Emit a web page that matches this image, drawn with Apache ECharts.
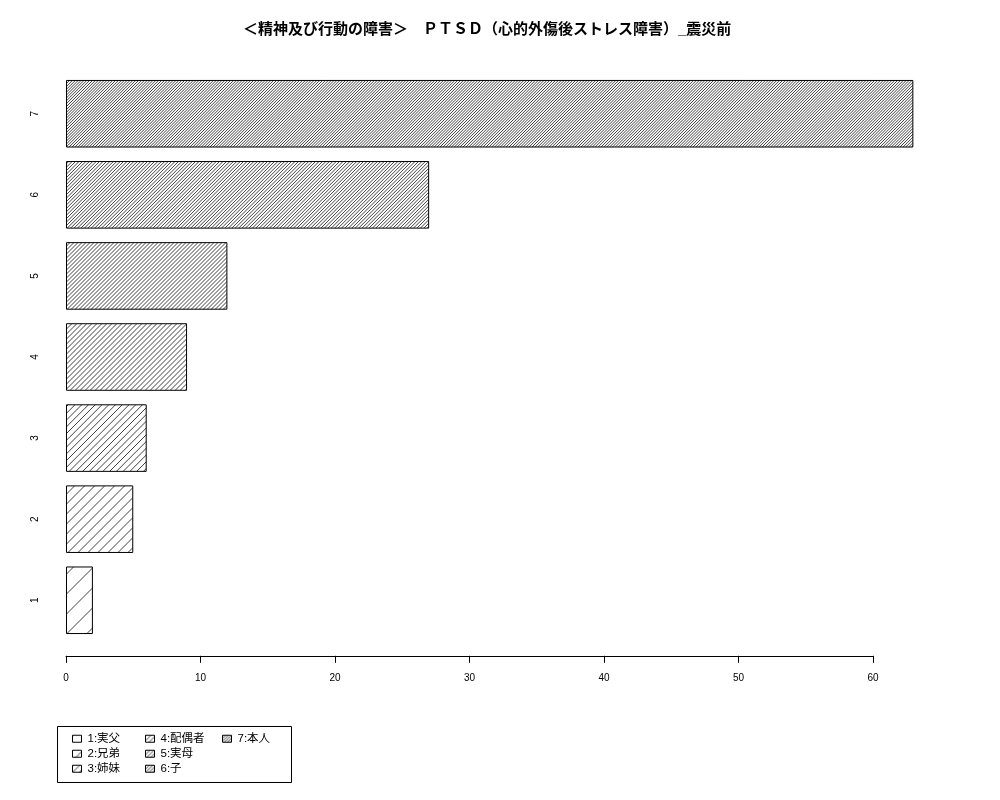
<!DOCTYPE html>
<html>
<head>
<meta charset="utf-8">
<script src="https://cdn.jsdelivr.net/npm/echarts@6/dist/echarts.min.js"></script>
<style>
  html, body { margin: 0; padding: 0; background: #fff; }
  #main { width: 1000px; height: 800px; }
</style>
</head>
<body>
<div id="main"></div>
<script>
// データ
var categories = ['1', '2', '3', '4', '5', '6', '7'];
var values = [2, 5, 6, 9, 12, 27, 63];
var legendNames = ['1:実父', '2:兄弟', '3:姉妹', '4:配偶者', '5:実母', '6:子', '7:本人'];
var xTicks = [0, 10, 20, 30, 40, 50, 60];

// 斜線の密度 (lines per inch, R の density)
var densities = [5, 10, 15, 20, 25, 30, 35];

var FONT = '"Liberation Sans", "Noto Sans CJK JP", sans-serif';

// 45度の斜線パターン
function makeHatch(density) {
  var s = 72 / density * Math.SQRT2; // 横方向の間隔
  var n = Math.max(1, Math.round(24 / s));
  var T = Math.round(n * s);
  var step = T / n;
  var cv = document.createElement('canvas');
  cv.width = T;
  cv.height = T;
  var ctx = cv.getContext('2d');
  ctx.fillStyle = '#fff';
  ctx.fillRect(0, 0, T, T);
  ctx.strokeStyle = '#000';
  ctx.lineWidth = 0.75;
  ctx.beginPath();
  for (var k = -1; k <= 2 * n + 1; k++) {
    var c = k * step + 0.5;
    ctx.moveTo(c + 2, -2);
    ctx.lineTo(c - T - 2, T + 2);
  }
  ctx.stroke();
  return cv;
}

var series = categories.map(function (c, i) {
  return {
    name: legendNames[i],
    type: 'bar',
    stack: 'all',
    clip: false,
    barCategoryGap: '16.67%',
    itemStyle: {
      color: { image: makeHatch(densities[i]), repeat: 'repeat' },
      borderColor: '#000',
      borderWidth: 1
    },
    emphasis: { disabled: true },
    data: categories.map(function (cc, j) { return j === i ? values[i] : '-'; })
  };
});

function legendAt(names, left) {
  return {
    data: names,
    orient: 'vertical',
    left: left,
    top: 733,
    icon: 'rect',
    itemWidth: 9,
    itemHeight: 7,
    itemGap: 3.5,
    padding: 0,
    selectedMode: false,
    itemStyle: { borderWidth: 1, borderColor: '#000' },
    textStyle: { fontSize: 11.5, color: '#000', fontFamily: FONT, padding: [0, 0, 0, 1] }
  };
}

var chart = echarts.init(document.getElementById('main'));
chart.setOption({
  animation: false,
  backgroundColor: '#fff',
  title: {
    text: '＜精神及び行動の障害＞　ＰＴＳＤ（心的外傷後ストレス障害）_震災前',
    left: 243,
    top: 22,
    padding: 0,
    textStyle: { fontSize: 15, fontWeight: 'bold', color: '#000', fontFamily: FONT }
  },
  legend: [
    legendAt(legendNames.slice(0, 3), 72),
    legendAt(legendNames.slice(3, 6), 145),
    legendAt(legendNames.slice(6), 222)
  ],
  graphic: [{
    type: 'rect',
    shape: { x: 57.5, y: 726.5, width: 234, height: 56 },
    style: { fill: 'none', stroke: '#000', lineWidth: 1 }
  }],
  grid: { left: 66, right: 127, top: 73.2, bottom: 159.2 },
  xAxis: {
    type: 'value',
    min: xTicks[0],
    max: xTicks[xTicks.length - 1],
    interval: 10,
    offset: 15,
    splitLine: { show: false },
    axisLine: { show: true, lineStyle: { color: '#000', width: 1 } },
    axisTick: { show: true, length: 7, lineStyle: { color: '#000' } },
    axisLabel: { margin: 17, fontSize: 10, color: '#000', fontFamily: FONT }
  },
  yAxis: {
    type: 'category',
    data: categories,
    axisLine: { show: false },
    axisTick: { show: false },
    axisLabel: { rotate: 90, margin: 26, fontSize: 10, color: '#000', fontFamily: FONT }
  },
  series: series
});
</script>
</body>
</html>
